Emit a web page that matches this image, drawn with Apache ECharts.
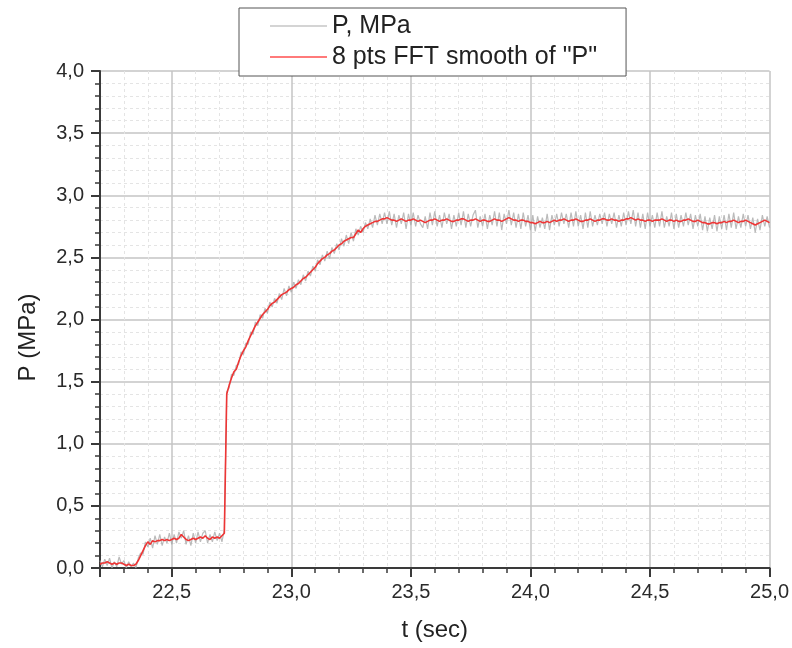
<!DOCTYPE html>
<html>
<head>
<meta charset="utf-8">
<script src="https://cdn.jsdelivr.net/npm/echarts@6/dist/echarts.min.js"></script>
<style>
html,body{margin:0;padding:0;background:#fff;}
#chart{width:792px;height:648px;}
</style>
</head>
<body>
<div id="chart"></div>
<script>
// Sampling of the record (seconds)
const T0 = 22.20;
const DT = 0.01;

// Raw pressure "P, MPa" (22.20 .. 25.00 s, every 0.01 s)
const rawP = [
0.06,0.01,0.07,0.02,0.08,0.00,0.05,0.01,0.09,0.03,
0.06,0.00,0.05,0.01,0.04,0.00,0.08,0.12,0.11,0.21,
0.17,0.24,0.16,0.26,0.19,0.27,0.18,0.25,0.20,0.28,
0.19,0.27,0.20,0.29,0.24,0.30,0.19,0.26,0.18,0.28,
0.20,0.29,0.21,0.28,0.30,0.20,0.27,0.21,0.29,0.22,
0.28,0.21,0.31,1.42,1.45,1.56,1.55,1.63,1.64,1.74,
1.72,1.81,1.80,1.90,1.88,1.98,1.95,2.04,2.01,2.09,
2.05,2.14,2.10,2.17,2.13,2.21,2.16,2.25,2.19,2.27,
2.22,2.30,2.25,2.32,2.28,2.36,2.31,2.39,2.35,2.43,
2.39,2.48,2.44,2.52,2.47,2.55,2.49,2.58,2.53,2.61,
2.56,2.65,2.59,2.68,2.61,2.70,2.63,2.73,2.68,2.75,
2.70,2.78,2.73,2.81,2.74,2.84,2.76,2.85,2.77,2.86,
2.77,2.87,2.76,2.85,2.74,2.84,2.77,2.86,2.73,2.85,
2.76,2.86,2.75,2.84,2.77,2.74,2.83,2.73,2.86,2.76,
2.87,2.75,2.84,2.74,2.86,2.77,2.85,2.73,2.84,2.75,
2.86,2.76,2.87,2.74,2.85,2.75,2.84,2.88,2.74,2.83,
2.75,2.85,2.73,2.84,2.76,2.87,2.75,2.86,2.72,2.85,
2.77,2.88,2.76,2.86,2.74,2.85,2.73,2.86,2.75,2.84,
2.72,2.84,2.71,2.83,2.74,2.82,2.73,2.85,2.72,2.84,
2.76,2.85,2.75,2.86,2.77,2.85,2.74,2.86,2.75,2.87,
2.75,2.84,2.73,2.86,2.74,2.87,2.75,2.84,2.76,2.85,
2.77,2.86,2.75,2.85,2.77,2.86,2.74,2.84,2.75,2.86,
2.76,2.87,2.77,2.88,2.75,2.86,2.74,2.85,2.73,2.86,
2.75,2.84,2.74,2.86,2.75,2.87,2.74,2.83,2.75,2.86,
2.73,2.85,2.74,2.84,2.75,2.86,2.76,2.85,2.73,2.84,
2.75,2.85,2.72,2.83,2.71,2.82,2.73,2.84,2.71,2.83,
2.73,2.84,2.72,2.85,2.74,2.86,2.73,2.83,2.74,2.85,
2.75,2.84,2.73,2.82,2.70,2.81,2.72,2.84,2.75,2.83,
2.74
];

// 8 pts FFT smooth of "P" (same sampling)
const smoothP = [
0.03,0.04,0.04,0.05,0.04,0.03,0.04,0.03,0.04,0.04,
0.03,0.02,0.03,0.02,0.02,0.03,0.06,0.10,0.14,0.18,
0.21,0.19,0.22,0.21,0.22,0.22,0.23,0.22,0.23,0.22,
0.23,0.24,0.23,0.24,0.27,0.25,0.23,0.22,0.23,0.24,
0.23,0.24,0.25,0.24,0.26,0.24,0.23,0.25,0.24,0.25,
0.24,0.26,0.28,1.40,1.47,1.53,1.58,1.60,1.66,1.71,
1.75,1.78,1.83,1.87,1.91,1.95,1.98,2.01,2.04,2.06,
2.08,2.11,2.13,2.14,2.16,2.18,2.20,2.21,2.22,2.24,
2.25,2.26,2.28,2.29,2.31,2.33,2.34,2.36,2.38,2.40,
2.42,2.45,2.47,2.49,2.50,2.52,2.53,2.55,2.56,2.58,
2.60,2.61,2.63,2.64,2.65,2.66,2.66,2.69,2.72,2.70,
2.73,2.75,2.76,2.77,2.78,2.79,2.79,2.80,2.81,2.81,
2.82,2.81,2.80,2.80,2.79,2.80,2.81,2.80,2.79,2.80,
2.80,2.81,2.80,2.79,2.80,2.79,2.78,2.79,2.80,2.80,
2.81,2.80,2.79,2.80,2.80,2.81,2.80,2.79,2.79,2.80,
2.80,2.81,2.81,2.80,2.79,2.80,2.80,2.81,2.80,2.79,
2.80,2.80,2.79,2.79,2.80,2.81,2.80,2.80,2.79,2.80,
2.81,2.82,2.81,2.80,2.80,2.79,2.80,2.80,2.79,2.79,
2.78,2.78,2.77,2.78,2.79,2.78,2.78,2.79,2.78,2.79,
2.80,2.79,2.80,2.80,2.81,2.80,2.79,2.80,2.80,2.81,
2.80,2.79,2.79,2.80,2.80,2.81,2.80,2.79,2.80,2.80,
2.81,2.81,2.80,2.80,2.81,2.80,2.80,2.79,2.80,2.80,
2.81,2.81,2.82,2.81,2.80,2.81,2.80,2.80,2.79,2.80,
2.80,2.79,2.80,2.80,2.80,2.81,2.80,2.79,2.80,2.80,
2.79,2.80,2.79,2.79,2.80,2.80,2.81,2.80,2.79,2.79,
2.80,2.79,2.78,2.78,2.77,2.77,2.78,2.78,2.77,2.78,
2.78,2.79,2.78,2.79,2.79,2.80,2.79,2.78,2.79,2.79,
2.80,2.79,2.78,2.77,2.76,2.77,2.78,2.79,2.80,2.79,
2.78
];

const seriesNames = ['P, MPa', '8 pts FFT smooth of "P"'];
const xRange = [22.2, 25.0];
const yRange = [0, 4.0];
const yStep = 0.5;
const xTitle = 't (sec)';
const yTitle = 'P (MPa)';

function pairs(vals){
  return vals.map((v,i)=>[+(T0 + i*DT).toFixed(2), v]);
}
function fmt(v){ return v.toFixed(1).replace('.', ','); }

const FONT = '"Liberation Sans", Arial, sans-serif';
const chart = echarts.init(document.getElementById('chart'), null, {renderer:'canvas'});
chart.setOption({
  animation:false,
  backgroundColor:'#fff',
  textStyle:{fontFamily:FONT},
  grid:{left:100,right:20,top:71,bottom:80,containLabel:false},
  legend:{
    orient:'vertical',
    left:239, top:8,
    padding:[5,29,6,31],
    borderColor:'#555', borderWidth:1,
    backgroundColor:'#fff',
    itemWidth:57, itemHeight:2, itemGap:5,
    icon:'rect',
    textStyle:{fontFamily:FONT,fontSize:25,color:'#222',lineHeight:26},
    data:[
      {name:seriesNames[0], itemStyle:{color:'#d4d4d4'}},
      {name:seriesNames[1], itemStyle:{color:'#ff7a7a'}}
    ],
    z:10
  },
  xAxis:{
    type:'value', min:xRange[0], max:xRange[1], splitNumber:5,
    name:xTitle, nameLocation:'middle', nameGap:50,
    nameTextStyle:{fontFamily:FONT,fontSize:24,color:'#222'},
    axisLine:{show:true,onZero:false,lineStyle:{color:'#3a3a3a',width:2}},
    axisTick:{show:true,length:9,lineStyle:{color:'#3a3a3a',width:2}},
    minorTick:{show:true,splitNumber:5,length:5,lineStyle:{color:'#3a3a3a',width:1.5}},
    axisLabel:{fontFamily:FONT,fontSize:20,color:'#2a2a2a',margin:14,showMinLabel:false,
      formatter:v=> Math.abs(v-xRange[0])<1e-6 ? '' : fmt(v)},
    splitLine:{show:true,lineStyle:{color:'#c4c4c4',width:1.5}},
    minorSplitLine:{show:true,lineStyle:{color:'#e4e4e4',width:1,type:[3,3]}}
  },
  yAxis:{
    type:'value', min:yRange[0], max:yRange[1], interval:yStep,
    name:yTitle, nameLocation:'middle', nameGap:60, nameRotate:90,
    nameTextStyle:{fontFamily:FONT,fontSize:24,color:'#222',padding:[0,36,0,0]},
    axisLine:{show:true,onZero:false,lineStyle:{color:'#3a3a3a',width:2}},
    axisTick:{show:true,length:9,lineStyle:{color:'#3a3a3a',width:2}},
    minorTick:{show:true,splitNumber:5,length:5,lineStyle:{color:'#3a3a3a',width:1.5}},
    axisLabel:{fontFamily:FONT,fontSize:20,color:'#2a2a2a',margin:16,formatter:fmt},
    splitLine:{show:true,lineStyle:{color:'#c4c4c4',width:1.5}},
    minorSplitLine:{show:true,lineStyle:{color:'#e4e4e4',width:1,type:[3,3]}}
  },
  series:[
    {name:seriesNames[0], type:'line', data:pairs(rawP), symbol:'none',
     lineStyle:{color:'#aaaaaa',width:1.2,opacity:0.8}, itemStyle:{color:'#d4d4d4'}, z:2},
    {name:seriesNames[1], type:'line', data:pairs(smoothP), symbol:'none',
     lineStyle:{color:'#ee3535',width:1.6}, itemStyle:{color:'#ff7a7a'}, z:3}
  ]
});
</script>
</body>
</html>
